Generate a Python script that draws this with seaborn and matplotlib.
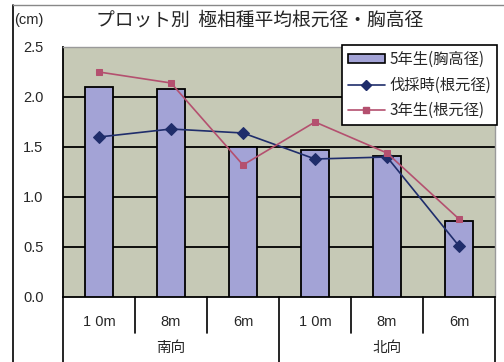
import matplotlib
matplotlib.use("Agg")
import matplotlib.pyplot as plt
import seaborn as sns
import pandas as pd
import numpy as np
from matplotlib.lines import Line2D
from matplotlib.patches import Patch

sns.set_theme(style="white")
plt.rcParams['font.family'] = ['Noto Sans CJK JP', 'DejaVu Sans']

groups = ["南向", "北向"]
distances = ["10m", "8m", "6m"]
bar_5yr = [2.10, 2.08, 1.50, 1.47, 1.41, 0.76]       # 5年生(胸高径)
felled = [1.60, 1.68, 1.64, 1.38, 1.40, 0.51]        # 伐採時(根元径)
yr3 = [2.25, 2.14, 1.32, 1.75, 1.44, 0.78]           # 3年生(根元径)
yticks = [0.0, 0.5, 1.0, 1.5, 2.0, 2.5]

cats = [f"{g}{d}" for g in groups for d in distances]
df = pd.DataFrame({"cat": cats, "bar": bar_5yr, "felled": felled, "yr3": yr3,
                   "idx": np.arange(len(cats))})

W, H = 504, 362
fig = plt.figure(figsize=(W / 100, H / 100), dpi=100)
fig.patch.set_facecolor("white")
L, R, T, B = 63, 495, 47, 297
ax = fig.add_axes([L / W, 1 - B / H, (R - L) / W, (B - T) / H])
ax.set_facecolor("#c6c9b6")

sns.barplot(data=df, x="cat", y="bar", ax=ax, color="#a3a3d6", edgecolor="black",
            linewidth=1.3, width=0.4, saturation=1, zorder=3)
sns.lineplot(data=df, x="idx", y="felled", ax=ax, color="#1f2d6b", marker="D",
             markersize=6, markeredgecolor="#1f2d6b", linewidth=1.2, zorder=4)
sns.lineplot(data=df, x="idx", y="yr3", ax=ax, color="#b4506f", marker="s",
             markersize=5, markeredgecolor="#b4506f", linewidth=1.2, zorder=5)

ax.set_xlim(-0.5, len(cats) - 0.5)
ax.set_ylim(0, 2.5)
ax.set_yticks(yticks)
ax.set_yticklabels([f"{v:.1f}" for v in yticks], fontsize=10.5,
                   family=['Liberation Sans', 'DejaVu Sans'])
ax.tick_params(axis="y", length=0, pad=14)
ax.set_xticks([])
ax.set_xlabel("")
ax.set_ylabel("")
for y in yticks[1:-1]:
    ax.axhline(y, color="black", linewidth=1.3, zorder=1)
for s in ["left", "bottom"]:
    ax.spines[s].set_color("black")
    ax.spines[s].set_linewidth(1.3)
ax.spines["top"].set_color("#9a9a9a")
ax.spines["top"].set_linewidth(1.0)
ax.spines["right"].set_color("#9a9a9a")
ax.spines["right"].set_linewidth(1.0)

# category axis (two levels)
tr = ax.get_xaxis_transform()
def ax_y(py):
    return (B - py) / (B - T)

for i in range(len(cats) + 1):
    x = i - 0.5
    y_end = ax_y(362) if i in (0, 3, 6) else ax_y(333)
    ax.add_line(Line2D([x, x], [0, y_end], transform=tr, color="black",
                       linewidth=1.2, clip_on=False))
for i, c in enumerate(cats):
    d = distances[i % 3]
    ax.text(i, ax_y(322), d.replace("10m", "1 0m"), transform=tr, ha="center",
            va="center", fontsize=10.5, family=['Liberation Sans', 'DejaVu Sans'])
for gi, g in enumerate(groups):
    ax.text(gi * 3 + 1, ax_y(348), g, transform=tr, ha="center", va="center",
            fontsize=10.5)

# titles
fig.text(260 / W, 1 - 20 / H, "プロット別  極相種平均根元径・胸高径", ha="center",
         va="center", fontsize=13.5)
fig.text(14 / W, 1 - 20 / H, "(cm)", ha="left", va="center", fontsize=10.5,
         family=['Liberation Sans', 'DejaVu Sans'])

# outer frame lines
fig.add_artist(Line2D([13 / W, 13 / W], [0, 1 - 5 / H], transform=fig.transFigure,
                      color="black", linewidth=1.2))
fig.add_artist(Line2D([13 / W, 1], [1 - 5 / H, 1 - 5 / H], transform=fig.transFigure,
                      color="#888888", linewidth=1.0))

handles = [
    Patch(facecolor="#a3a3d6", edgecolor="black", linewidth=1.2),
    Line2D([], [], color="#1f2d6b", marker="D", markersize=5, linewidth=1.2),
    Line2D([], [], color="#b4506f", marker="s", markersize=4, linewidth=1.2),
]
labels = ["5年生(胸高径)", "伐採時(根元径)", "3年生(根元径)"]
leg = ax.legend(handles, labels, loc="upper right", bbox_to_anchor=(497 / W, 1 - 45 / H),
                bbox_transform=fig.transFigure, fontsize=11, frameon=True,
                fancybox=False, edgecolor="black", framealpha=1, handlelength=2.4,
                handleheight=0.5, handletextpad=0.3, borderpad=0.4, labelspacing=0.55,
                borderaxespad=0)
leg.get_frame().set_linewidth(1.2)
leg.set_zorder(10)

fig.savefig("out.png", dpi=100, facecolor="white")
